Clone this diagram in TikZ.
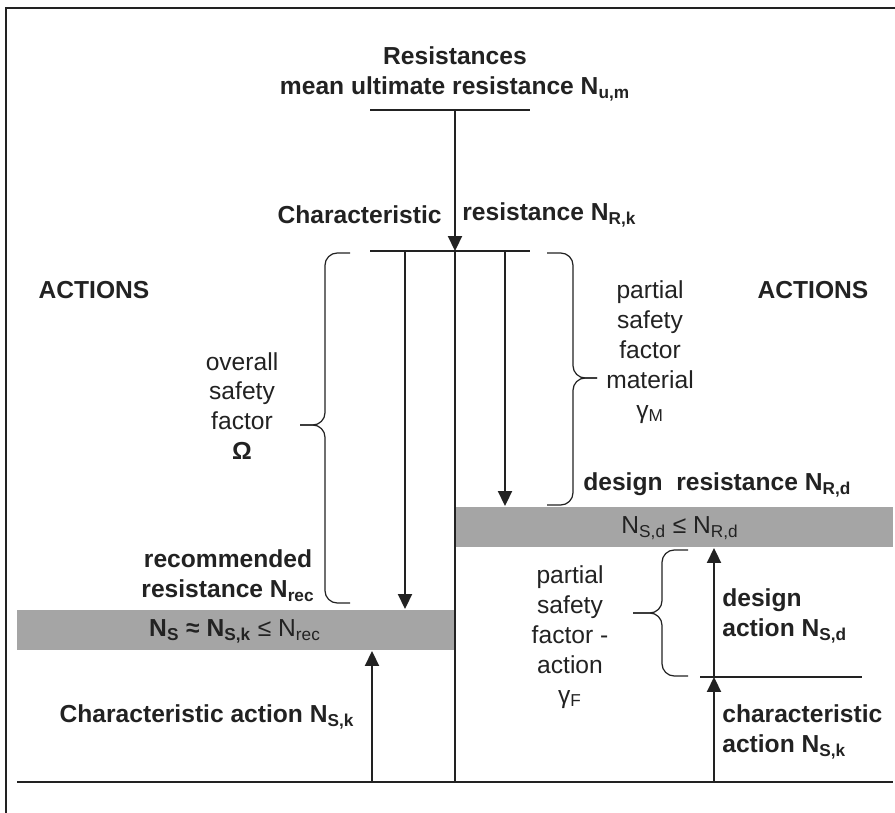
\documentclass[tikz,border=0pt]{standalone}
\usepackage{fontspec}
\setmainfont{Liberation Sans}
\usetikzlibrary{arrows.meta}
\definecolor{bargray}{RGB}{165,165,165}
\definecolor{inkgray}{RGB}{34,34,34}
\newcommand{\ix}[1]{\textsubscript{#1}}
\tikzset{
  lbl/.style={font=\bfseries\fontsize{14}{17}\selectfont, text=inkgray, align=center, inner sep=0pt},
  txt/.style={font=\fontsize{14}{17}\selectfont, text=inkgray, align=center, inner sep=0pt},
  level/.style={line width=1.6pt, draw=inkgray},
  flow/.style={line width=1pt, draw=inkgray, -{Triangle[width=8pt,length=8.5pt]}},
  bracket/.style={line width=0.7pt, draw=inkgray, rounded corners=7pt}
}
\begin{document}
\begin{tikzpicture}[x=0.02cm, y=-0.02cm]
    \useasboundingbox (0,0) rectangle (895,813);

    % Rahmen
    \draw[line width=0.8pt, inkgray] (6,813) -- (6,8) -- (895,8);

    % Graue Balken
    \fill[bargray] (17,610) rectangle (455,650);
    \fill[bargray] (455,507) rectangle (893,547);
    \node[txt] (recBand) at (235,631) {\textbf{N\ix{S} ≈ N\ix{S,k}} ≤ N\ix{rec}};
    \node[txt] (desBand) at (680,528) {N\ix{S,d} ≤ N\ix{R,d}};

    % Punkte
    \coordinate (Um) at (455,110);
    \coordinate (Rk) at (455,251);
    \coordinate (Base) at (455,782);
    \coordinate (OmegaTop) at (405,251);
    \coordinate (OmegaEnd) at (405,609);
    \coordinate (GammaMTop) at (505,251);
    \coordinate (GammaMEnd) at (505,506);
    \coordinate (SkLeft) at (372,782);
    \coordinate (SkLeftEnd) at (372,651);
    \coordinate (SkRight) at (714,782);
    \coordinate (Sd) at (714,677);
    \coordinate (SdEnd) at (714,548);

    % Niveaulinien
    \draw[level] (370,110) -- (530,110);
    \draw[level] (370,251) -- (530,251);
    \draw[level] (700,677) -- (862,677);
    \draw[level] (17,782) -- (893,782);

    % Mittellinie und Pfeile
    \draw[line width=0.7pt, inkgray] (Rk) -- (Base);
    \draw[flow] (Um) -- (Rk);
    \draw[flow] (OmegaTop) -- (OmegaEnd);
    \draw[flow] (GammaMTop) -- (GammaMEnd);
    \draw[flow] (SkLeft) -- (SkLeftEnd);
    \draw[flow] (SkRight) -- (Sd);
    \draw[flow] (Sd) -- (SdEnd);

    % Klammern
    \draw[bracket] (350,253) -| (325,425) -- (300,425);
    \draw[bracket] (350,603) -| (325,425) -- (300,425);
    \draw[bracket] (547,253) -| (573,378) -- (597,378);
    \draw[bracket] (547,505) -| (573,378) -- (597,378);
    \draw[bracket] (688,550) -| (662,613) -- (633,613);
    \draw[bracket] (688,676) -| (662,613) -- (633,613);

    % Beschriftungen
    \node[lbl] (resTitle) at (455,74) {Resistances\\mean ultimate resistance N\ix{u,m}};
    \node[lbl, anchor=east] (charWord) at (442,215) {Characteristic};
    \node[lbl, anchor=west] (charRes) at (462,215) {resistance N\ix{R,k}};
    \node[lbl] (actLeft) at (94,290) {ACTIONS};
    \node[lbl] (actRight) at (813,290) {ACTIONS};
    \node[txt] (omega) at (242,406) {overall\\safety\\factor\\\textbf{Ω}};
    \node[txt] (gammaM) at (650,352) {partial\\safety\\factor\\material\\γ\ix{M}};
    \node[lbl, anchor=west] (desRes) at (583,485) {design\ \ resistance N\ix{R,d}};
    \node[lbl] (recRes) at (228,576) {recommended\\resistance N\ix{rec}};
    \node[lbl] (charAct) at (207,717) {Characteristic action N\ix{S,k}};
    \node[txt] (gammaF) at (570,637) {partial\\safety\\factor -\\action\\γ\ix{F}};
    \node[lbl, anchor=west, align=left] (desAct) at (722,616) {design\\action N\ix{S,d}};
    \node[lbl, anchor=west, align=left] (charActR) at (722,732) {characteristic\\action N\ix{S,k}};
\end{tikzpicture}
\end{document}
